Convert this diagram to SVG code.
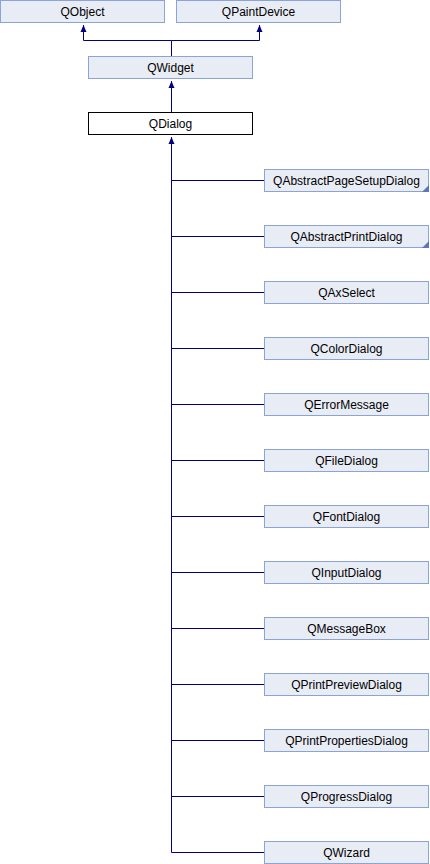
<svg xmlns="http://www.w3.org/2000/svg" width="430" height="864" viewBox="0 0 430 864">
<style>
.n{fill:#e8ecf5;stroke:#8ca3d6;stroke-width:1}
.cur{fill:#ffffff;stroke:#000000;stroke-width:1}
.t{font-family:"Liberation Sans",Arial,sans-serif;font-size:12px;fill:#000;text-anchor:middle}
.e{fill:none;stroke:#000080;stroke-width:1}
.tri{fill:#5a78b8}
</style>
<defs>
<marker id="ah" markerWidth="8" markerHeight="8" refX="7" refY="4" orient="auto" markerUnits="userSpaceOnUse">
<path d="M0,1 L7,4 L0,7 Z" fill="#000080"/>
</marker>
</defs>
<rect width="430" height="864" fill="#ffffff"/>
<g id="connectors">
<path class="e" d="M171.5,56 V40.5 H83.5 V25" marker-end="url(#ah)"/>
<path class="e" d="M171.5,40.5 H259.5 V25" marker-end="url(#ah)"/>
<path class="e" d="M171.5,112 V81" marker-end="url(#ah)"/>
<path class="e" d="M171.5,852.5 V137" marker-end="url(#ah)"/>
<path class="e" d="M171.5,180.5 H264 M171.5,236.5 H264 M171.5,292.5 H264 M171.5,348.5 H264 M171.5,404.5 H264 M171.5,460.5 H264 M171.5,516.5 H264 M171.5,572.5 H264 M171.5,628.5 H264 M171.5,684.5 H264 M171.5,740.5 H264 M171.5,796.5 H264 M171.5,852.5 H264"/>
</g>
<g id="QObject"><rect class="n" x="0.5" y="0.5" width="164" height="22"/><text class="t" x="82.5" y="16">QObject</text></g>
<g id="QPaintDevice"><rect class="n" x="176.5" y="0.5" width="164" height="22"/><text class="t" x="258.5" y="16">QPaintDevice</text></g>
<g id="QWidget"><rect class="n" x="88.5" y="56.5" width="164" height="22"/><text class="t" x="170.5" y="72">QWidget</text></g>
<g id="QDialog"><rect class="cur" x="88.5" y="112.5" width="164" height="22"/><text class="t" x="170.5" y="128">QDialog</text></g>
<g id="QAbstractPageSetupDialog"><rect class="n" x="264.5" y="169.5" width="164" height="22"/><path class="tri" d="M429,185 V192 H422 Z"/><text class="t" x="346.5" y="185">QAbstractPageSetupDialog</text></g>
<g id="QAbstractPrintDialog"><rect class="n" x="264.5" y="225.5" width="164" height="22"/><path class="tri" d="M429,241 V248 H422 Z"/><text class="t" x="346.5" y="241">QAbstractPrintDialog</text></g>
<g id="QAxSelect"><rect class="n" x="264.5" y="281.5" width="164" height="22"/><text class="t" x="346.5" y="297">QAxSelect</text></g>
<g id="QColorDialog"><rect class="n" x="264.5" y="337.5" width="164" height="22"/><text class="t" x="346.5" y="353">QColorDialog</text></g>
<g id="QErrorMessage"><rect class="n" x="264.5" y="393.5" width="164" height="22"/><text class="t" x="346.5" y="409">QErrorMessage</text></g>
<g id="QFileDialog"><rect class="n" x="264.5" y="449.5" width="164" height="22"/><text class="t" x="346.5" y="465">QFileDialog</text></g>
<g id="QFontDialog"><rect class="n" x="264.5" y="505.5" width="164" height="22"/><text class="t" x="346.5" y="521">QFontDialog</text></g>
<g id="QInputDialog"><rect class="n" x="264.5" y="561.5" width="164" height="22"/><text class="t" x="346.5" y="577">QInputDialog</text></g>
<g id="QMessageBox"><rect class="n" x="264.5" y="617.5" width="164" height="22"/><text class="t" x="346.5" y="633">QMessageBox</text></g>
<g id="QPrintPreviewDialog"><rect class="n" x="264.5" y="673.5" width="164" height="22"/><text class="t" x="346.5" y="689">QPrintPreviewDialog</text></g>
<g id="QPrintPropertiesDialog"><rect class="n" x="264.5" y="729.5" width="164" height="22"/><text class="t" x="346.5" y="745">QPrintPropertiesDialog</text></g>
<g id="QProgressDialog"><rect class="n" x="264.5" y="785.5" width="164" height="22"/><text class="t" x="346.5" y="801">QProgressDialog</text></g>
<g id="QWizard"><rect class="n" x="264.5" y="841.5" width="164" height="22"/><text class="t" x="346.5" y="857">QWizard</text></g>
</svg>
